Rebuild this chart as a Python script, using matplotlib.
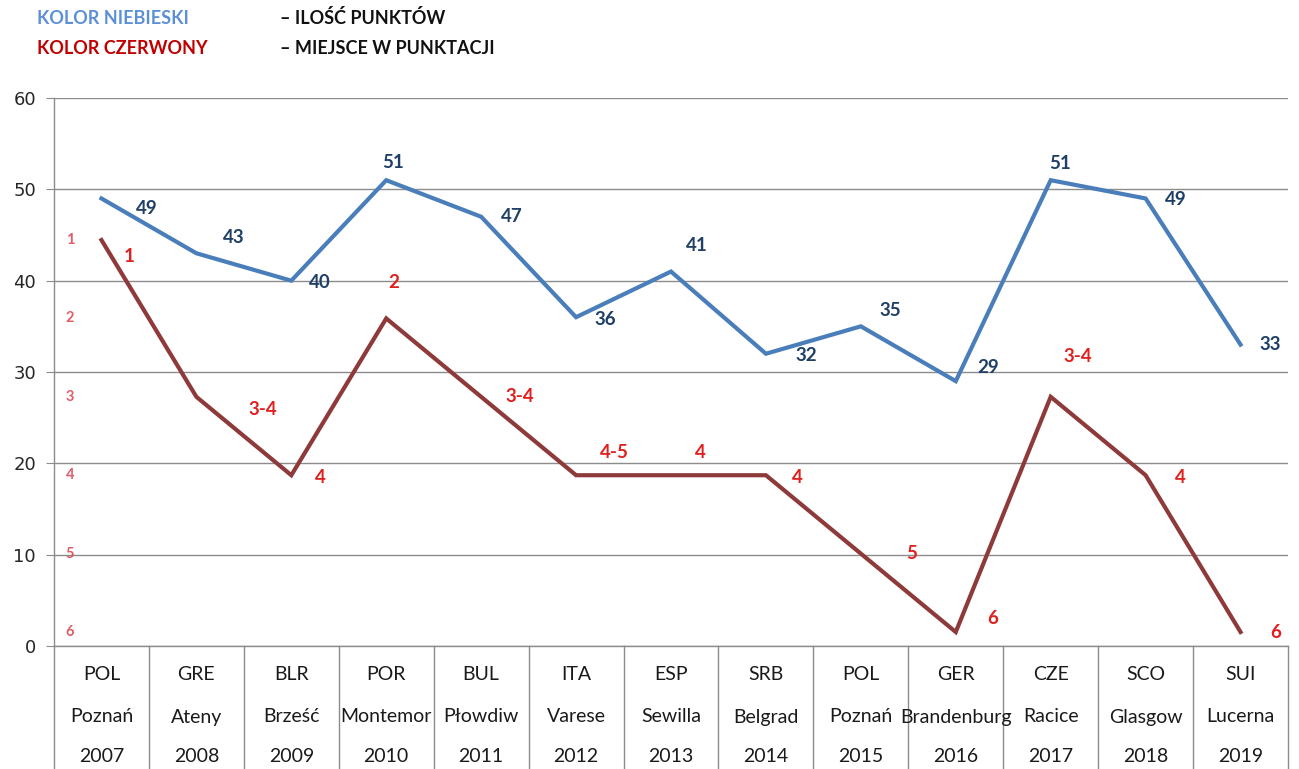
import matplotlib

matplotlib.use("Agg")
import matplotlib.pyplot as plt
import matplotlib.transforms as mtransforms

countries = ["POL", "GRE", "BLR", "POR", "BUL", "ITA", "ESP", "SRB", "POL", "GER", "CZE", "SCO", "SUI"]
cities = ["Poznań", "Ateny", "Brześć", "Montemor", "Płowdiw", "Varese", "Sewilla", "Belgrad",
          "Poznań", "Brandenburg", "Racice", "Glasgow", "Lucerna"]
years = ["2007", "2008", "2009", "2010", "2011", "2012", "2013", "2014", "2015", "2016", "2017", "2018", "2019"]

points = [49, 43, 40, 51, 47, 36, 41, 32, 35, 29, 51, 49, 33]
# place in the ranking, as drawn (3-4 drawn at 3, 4-5 at 4)
place = [1, 3, 4, 2, 3, 4, 4, 4, 5, 6, 3, 4, 6]
place_labels = ["1", "3-4", "4", "2", "3-4", "4-5", "4", "4", "5", "6", "3-4", "4", "6"]
place_scale = [1, 2, 3, 4, 5, 6]

# label offsets in pixels (dx, dy) from each point
blue_off = [(45, -10), (37, 16), (29, -2), (7, 18), (31, 0), (29, -2), (26, 26), (40, -2),
            (29, 16), (32, 14), (9, 17), (30, -1), (30, 0)]
red_off = [(28, -16), (66, -13), (29, -2), (7, 36), (39, 0), (38, 23), (29, 23), (31, -2),
           (51, 0), (37, 14), (27, 40), (35, -2), (35, 0)]

BLUE = "#4a7ebb"
BLUE_TXT = "#1f3f66"
RED = "#8e3a3a"
RED_TXT = "#e0201e"
GRID = "#8c8c8c"

W, H = 1299, 769
fig = plt.figure(figsize=(W / 100, H / 100), dpi=100)
ax = fig.add_axes([54 / W, 123 / H, 1234 / W, 548 / H])

x = list(range(len(points)))
ax.set_xlim(-0.5, len(points) - 0.5)
ax.set_ylim(0, 60)
ax.set_yticks(range(0, 61, 10))
ax.grid(axis="y", color=GRID, lw=1)
ax.set_axisbelow(True)
ax.set_xticks([])
for s in ["top", "right"]:
    ax.spines[s].set_visible(False)
for s in ["left", "bottom"]:
    ax.spines[s].set_color(GRID)
    ax.spines[s].set_linewidth(1)
ax.tick_params(axis="y", length=6, color=GRID, labelsize=13, labelcolor="#262626", pad=7)

# twin scale for places: 1 -> 44.45, 6 -> 1.53
ax2 = ax.twinx()
p1, p6 = 44.45, 1.53
step = (p1 - p6) / 5
ax2.set_ylim(1 + (p1 - 0) / step, 1 + (p1 - 60) / step)
ax2.axis("off")

ax.plot(x, points, color=BLUE, lw=3, solid_joinstyle="miter", zorder=3)
ax2.plot(x, place, color=RED, lw=3, solid_joinstyle="miter", zorder=3)

for i, v in enumerate(points):
    ax.annotate(str(v), (i, v), xytext=blue_off[i], textcoords="offset pixels",
                ha="center", va="center", color=BLUE_TXT, fontsize=13.5, fontweight="bold",
                family="Lato")
for i, p in enumerate(place):
    ax2.annotate(place_labels[i], (i, p), xytext=red_off[i], textcoords="offset pixels",
                 ha="center", va="center", color=RED_TXT, fontsize=13.5, fontweight="bold",
                 family="Lato")

tr2 = mtransforms.blended_transform_factory(ax2.transAxes, ax2.transData)
for p in place_scale:
    ax2.text(16 / 1234, p, str(p), transform=tr2, ha="center", va="center",
             color="#d9404c", fontsize=10.5, fontweight="bold", family="Lato", alpha=0.85)

# table-like category labels below the axis
trx = mtransforms.blended_transform_factory(ax.transData, ax.transAxes)
for i in range(len(points) + 1):
    ax.plot([i - 0.5, i - 0.5], [0, -0.23], color=GRID, lw=1, transform=trx, clip_on=False)
rows = [countries, cities, years]
row_y = [-(675 - 646) / 548, -(717 - 646) / 548, -(757 - 646) / 548]
for row, yy in zip(rows, row_y):
    for i, t in enumerate(row):
        ax.text(i, yy, t, transform=trx, ha="center", va="center", fontsize=14,
                family="Lato", color="#1a1a1a")

# header legend
fig.text(37 / W, 1 - 18 / H, "KOLOR NIEBIESKI", color="#5b8fd6", fontsize=13,
         fontweight="bold", family="Lato", va="center")
fig.text(280 / W, 1 - 18 / H, "– ILOŚĆ PUNKTÓW", color="#111111", fontsize=13,
         fontweight="bold", family="Lato", va="center")
fig.text(37 / W, 1 - 48 / H, "KOLOR CZERWONY", color="#c00000", fontsize=13,
         fontweight="bold", family="Lato", va="center")
fig.text(280 / W, 1 - 48 / H, "– MIEJSCE W PUNKTACJI", color="#111111", fontsize=13,
         fontweight="bold", family="Lato", va="center")

fig.savefig("out.png", dpi=100)
